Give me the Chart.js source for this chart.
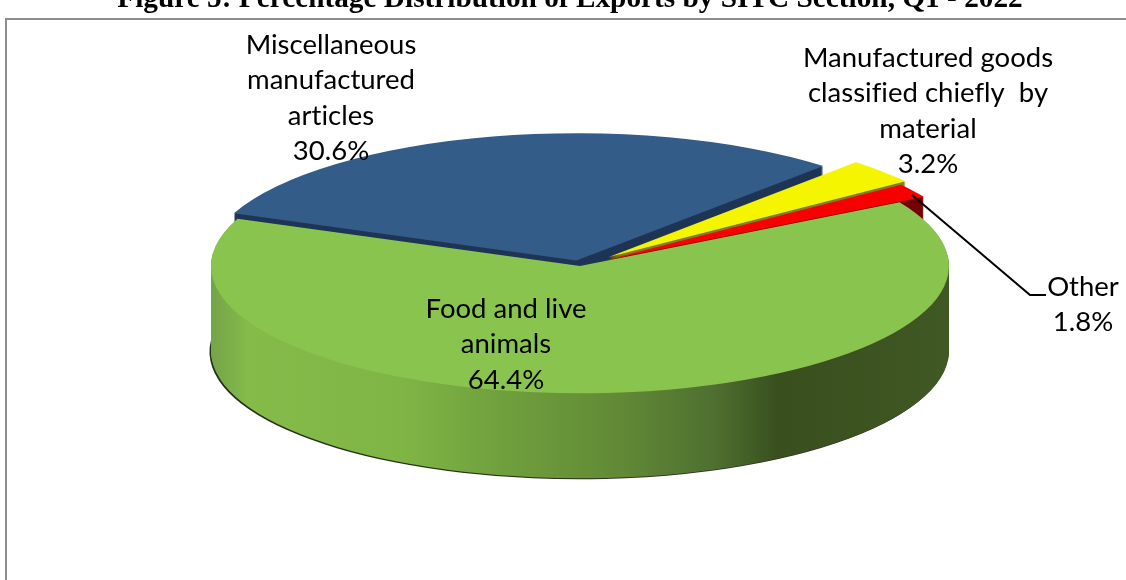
<!DOCTYPE html>
<html>
<head>
<meta charset="utf-8">
<title>Exports by SITC Section</title>
<script src="https://cdn.jsdelivr.net/npm/chart.js@4/dist/chart.umd.min.js"></script>
<style>
	html, body { margin: 0; padding: 0; background: #fff; overflow: hidden; }
	canvas { display: block; }
</style>
</head>
<body>
<canvas id="Chart" width="1126" height="580"></canvas>
<script>
const chartTitle = "Figure 5: Percentage Distribution of Exports by SITC Section, Q1 - 2022";
const categories = ["Food and live animals", "Miscellaneous manufactured articles", "Manufactured goods classified chiefly  by material", "Other"];
const shares = [64.4, 30.6, 3.2, 1.8];
const labelLines = [["Food and live", "animals"], ["Miscellaneous", "manufactured", "articles"], ["Manufactured goods", "classified chiefly  by", "material"], ["Other"]];

const topColors = ["#89c44e", "#335c88", "#f5f500", "#f80000"];
const wallColors = [null, "#1f3556", "#7f7f00", "#730000"];
const paintOrder = [1, 2, 3, 0];

// layout of the tilted pie, in page pixels
const pie = {x: 580, y: 266, radius: 369, tilt: 0.345, depth: 85};
const explode = [0, 16, 39, 29];
const labelSpots = [{x: 506, y: 309}, {x: 331, y: 45}, {x: 928, y: 58}, {x: 1083, y: 287}];
const lineGap = 35.5;
const leader = [[912, 195], [1030, 295], [1046, 295]];

function greenWall(ctx, arc)
{
	var left = arc.x - pie.radius, width = pie.radius * 2;
	var grad = ctx.createLinearGradient(left, 0, left + width, 0);
	grad.addColorStop(0, "#75a349");
	grad.addColorStop(0.05, "#84bb49");
	grad.addColorStop(0.26, "#7fb545");
	grad.addColorStop(0.4, "#6f9f3d");
	grad.addColorStop(0.55, "#628a36");
	grad.addColorStop(0.68, "#4f7030");
	grad.addColorStop(0.77, "#394f1e");
	grad.addColorStop(1, "#405824");
	return grad;
}

function paintArc(ctx, arc, color)
{
	var saved = arc.options;
	arc.options = {
		backgroundColor: color, borderColor: "transparent", borderWidth: 0, borderAlign: "center",
		borderDash: [], borderDashOffset: 0, borderJoinStyle: "round", borderRadius: 0,
		circular: true, offset: 0, spacing: 0, selfJoin: false
	};
	arc.draw(ctx);
	arc.options = saved;
}

const tiltedPie = {
	id: "tiltedPie",
	beforeDatasetDraw(chart)
	{
		var ctx = chart.ctx;
		var arcs = chart.getDatasetMeta(0).data;

		paintOrder.forEach(function (i)
		{
			var arc = arcs[i];
			var mid = (arc.startAngle + arc.endAngle) / 2;
			var dx = Math.cos(mid) * explode[i], dy = Math.sin(mid) * explode[i];

			ctx.save();
			ctx.translate(pie.x, pie.y);
			ctx.scale(1, pie.tilt);
			ctx.translate(dx - arc.x, dy - arc.y);

			if (i === 0)
			{
				// thin dark edge under the lower left rim
				ctx.save();
				ctx.translate(-1.5, (pie.depth + 1) / pie.tilt);
				paintArc(ctx, arc, "#26301a");
				ctx.restore();
			}

			var wall = i === 0 ? greenWall(ctx, arc) : wallColors[i];
			for (var d = pie.depth; d > 0; d--)
			{
				ctx.save();
				ctx.translate(0, d / pie.tilt);
				paintArc(ctx, arc, wall);
				ctx.restore();
			}
			paintArc(ctx, arc, topColors[i]);
			ctx.restore();
		});
		return false;
	},
	afterDraw(chart)
	{
		var ctx = chart.ctx;

		ctx.save();
		ctx.strokeStyle = "#8c8c8c";
		ctx.lineWidth = 2;
		ctx.strokeRect(6, 19, 1200, 700);

		ctx.fillStyle = "#000";
		ctx.font = "bold 29.3px 'Liberation Serif'";
		ctx.textAlign = "center";
		ctx.textBaseline = "alphabetic";
		ctx.fillText(chartTitle, 570, 7);

		ctx.strokeStyle = "#000";
		ctx.lineWidth = 2;
		ctx.beginPath();
		leader.forEach((p, i) => i ? ctx.lineTo(p[0], p[1]) : ctx.moveTo(p[0], p[1]));
		ctx.stroke();

		ctx.font = "27.5px Lato";
		ctx.letterSpacing = "0.01px";
		ctx.textBaseline = "middle";
		categories.forEach(function (name, i)
		{
			var lines = labelLines[i].concat(shares[i].toFixed(1) + "%");
			lines.forEach(function (text, n)
			{
				ctx.fillText(text, labelSpots[i].x, labelSpots[i].y + n * lineGap);
			});
		});
		ctx.restore();
	}
};

new Chart(document.getElementById("Chart"), {
	type: "pie",
	data: {
		labels: categories,
		datasets: [{data: shares, backgroundColor: topColors, borderWidth: 0}]
	},
	options: {
		responsive: false,
		animation: false,
		rotation: 60,
		radius: pie.radius,
		layout: {padding: 0},
		plugins: {legend: {display: false}, tooltip: {enabled: false}, title: {display: false}}
	},
	plugins: [tiltedPie]
});
</script>
</body>
</html>
